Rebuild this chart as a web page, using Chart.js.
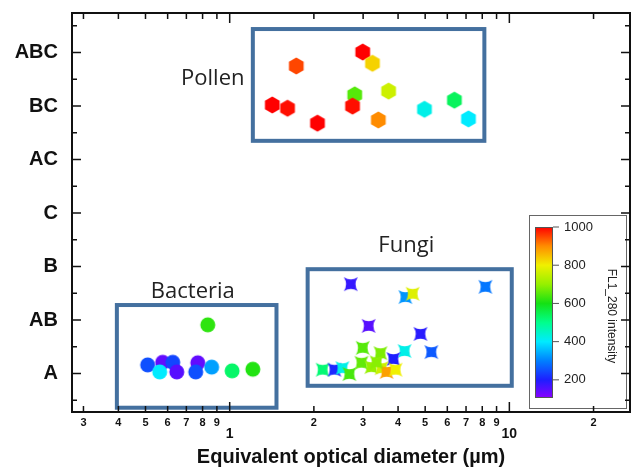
<!DOCTYPE html>
<html>
<head>
<meta charset="utf-8">
<script src="https://cdn.jsdelivr.net/npm/chart.js@4.4.1/dist/chart.umd.min.js"></script>
<style>
  html, body { margin: 0; padding: 0; background: #fff; }
  #wrap { position: relative; width: 635px; height: 470px; }
</style>
</head>
<body>
<div id="wrap"><canvas id="chart"></canvas></div>
<script>
// categories on the y axis, bottom to top
const yCategories = ['A', 'AB', 'B', 'C', 'AC', 'BC', 'ABC'];

// log x axis ticks
const xTickValues = [0.3, 0.4, 0.5, 0.6, 0.7, 0.8, 0.9, 1, 2, 3, 4, 5, 6, 7, 8, 9, 10, 20];
const xTickLabels = ['3', '4', '5', '6', '7', '8', '9', '1', '2', '3', '4', '5', '6', '7', '8', '9', '10', '2'];
const xMajorTicks = [1, 10];

// pollen (hexagons)
const pollenSize = [2.99, 3.24, 1.73, 1.42, 1.61, 2.06, 2.80, 2.75, 3.70, 3.40, 4.97, 6.36, 7.14];
const pollenClass = [6.01, 5.80, 5.75, 5.02, 4.96, 4.68, 5.21, 5.00, 5.28, 4.74, 4.94, 5.11, 4.76];
const pollenIntensity = [1000, 830, 950, 1000, 990, 1000, 650, 990, 760, 900, 420, 540, 400];

// bacteria (circles)
const bacteriaSize = [0.835, 0.509, 0.576, 0.562, 0.626, 0.647, 0.769, 0.756, 0.862, 1.02, 1.21];
const bacteriaClass = [0.91, 0.16, 0.21, 0.03, 0.21, 0.03, 0.20, 0.03, 0.12, 0.05, 0.08];
const bacteriaIntensity = [620, 250, 140, 400, 240, 150, 140, 250, 330, 530, 610];

// fungi (stars)
const fungiSize = [2.71, 8.21, 4.25, 4.51, 3.14, 4.81, 5.26, 4.22, 3.85, 2.99, 3.46, 2.15, 2.37, 2.53, 2.68, 2.96, 3.21, 3.49, 3.64, 3.92, 3.35];
const fungiClass = [1.67, 1.62, 1.43, 1.49, 0.89, 0.74, 0.40, 0.42, 0.27, 0.48, 0.38, 0.07, 0.07, 0.10, -0.01, 0.20, 0.12, 0.10, 0.03, 0.07, 0.21];
const fungiIntensity = [180, 290, 320, 780, 150, 190, 260, 420, 200, 650, 680, 520, 210, 420, 640, 660, 700, 760, 880, 800, 690];

// group boxes, in data units
const boxNames = ['Pollen', 'Bacteria', 'Fungi'];
const boxXMin = [1.21, 0.395, 1.90];
const boxXMax = [8.14, 1.47, 10.2];
const boxYMin = [4.35, -0.64, -0.23];
const boxYMax = [6.44, 1.28, 1.95];
const boxLabelX = [0.87, 0.738, 4.28];
const boxLabelY = [5.52, 1.52, 2.38];

// colour bar
const colorbarTicks = [200, 400, 600, 800, 1000];
const colorbarMin = 105;
const colorbarMax = 1000;
const cmapValues = [105, 200, 300, 400, 500, 600, 700, 800, 900, 1000];
const cmapColors = [
  [138, 0, 255], [30, 30, 255], [0, 128, 255], [0, 235, 255], [0, 255, 140],
  [20, 225, 20], [150, 240, 0], [240, 240, 0], [255, 140, 0], [255, 0, 0]
];

function intensityColor(v) {
  if (v <= cmapValues[0]) return 'rgb(' + cmapColors[0].join(',') + ')';
  for (let i = 1; i < cmapValues.length; i++) {
    if (v <= cmapValues[i]) {
      const t = (v - cmapValues[i - 1]) / (cmapValues[i] - cmapValues[i - 1]);
      const a = cmapColors[i - 1], b = cmapColors[i];
      const c = a.map((n, k) => Math.round(n + (b[k] - n) * t));
      return 'rgb(' + c.join(',') + ')';
    }
  }
  return 'rgb(' + cmapColors[cmapColors.length - 1].join(',') + ')';
}

function makeMarker(shape, color) {
  const size = 20;
  const cv = document.createElement('canvas');
  cv.width = size; cv.height = size;
  const c = cv.getContext('2d');
  c.translate(size / 2, size / 2);
  c.fillStyle = color;
  c.beginPath();
  if (shape === 'hex') {
    const r = 8.5;
    for (let i = 0; i < 6; i++) {
      const a = Math.PI / 2 + i * Math.PI / 3;
      c.lineTo(r * Math.cos(a), r * Math.sin(a));
    }
    c.closePath();
  } else if (shape === 'star') {
    const s = 7, k = 0.35;
    c.moveTo(-s, -s);
    c.quadraticCurveTo(0, -s * k, s, -s);
    c.quadraticCurveTo(s * k, 0, s, s);
    c.quadraticCurveTo(0, s * k, -s, s);
    c.quadraticCurveTo(-s * k, 0, -s, -s);
  } else {
    c.arc(0, 0, 7.5, 0, Math.PI * 2);
  }
  c.fill();
  return cv;
}

function points(xs, ys) {
  return xs.map((x, i) => ({ x: x, y: ys[i] }));
}

const FONT = '"Liberation Sans", Arial, sans-serif';

const decor = {
  id: 'decor',
  beforeDraw(chart) {
    const ctx = chart.ctx;
    ctx.save();
    ctx.fillStyle = '#fff';
    ctx.fillRect(0, 0, chart.width, chart.height);
    ctx.restore();
  },
  beforeDatasetsDraw(chart) {
    const ctx = chart.ctx, x = chart.scales.x, y = chart.scales.y;
    ctx.save();
    ctx.strokeStyle = '#44709f';
    ctx.lineWidth = 4;
    boxNames.forEach((name, i) => {
      const l = x.getPixelForValue(boxXMin[i]), r = x.getPixelForValue(boxXMax[i]);
      const t = y.getPixelForValue(boxYMax[i]), b = y.getPixelForValue(boxYMin[i]);
      ctx.strokeRect(l, t, r - l, b - t);
      ctx.fillStyle = '#222';
      ctx.font = '22px "Open Sans", ' + FONT;
      ctx.textAlign = 'center';
      ctx.textBaseline = 'middle';
      ctx.fillText(name, x.getPixelForValue(boxLabelX[i]), y.getPixelForValue(boxLabelY[i]));
    });
    ctx.restore();
  },
  afterDatasetsDraw(chart) {
    const ctx = chart.ctx, x = chart.scales.x, y = chart.scales.y, a = chart.chartArea;
    ctx.save();
    // colour bar legend
    const bx = 529, by = 215, bw = 97, bh = 193;
    ctx.fillStyle = '#fff';
    ctx.fillRect(bx, by, bw, bh);
    ctx.strokeStyle = '#666';
    ctx.lineWidth = 1;
    ctx.strokeRect(bx + 0.5, by + 0.5, bw, bh);
    const gl = 535, gr = 553, gt = 227, gb = 398;
    const grad = ctx.createLinearGradient(0, gb, 0, gt);
    cmapValues.forEach((v, i) => {
      grad.addColorStop((v - colorbarMin) / (colorbarMax - colorbarMin), 'rgb(' + cmapColors[i].join(',') + ')');
    });
    ctx.fillStyle = grad;
    ctx.fillRect(gl, gt, gr - gl, gb - gt);
    ctx.strokeStyle = '#555';
    ctx.strokeRect(gl + 0.5, gt + 0.5, gr - gl - 1, gb - gt - 1);
    ctx.fillStyle = '#222';
    ctx.font = '13px ' + FONT;
    ctx.textAlign = 'left';
    ctx.textBaseline = 'middle';
    colorbarTicks.forEach(v => {
      const py = gb - (v - colorbarMin) / (colorbarMax - colorbarMin) * (gb - gt);
      ctx.beginPath();
      ctx.moveTo(gr, py); ctx.lineTo(gr + 6, py);
      ctx.stroke();
      ctx.fillText(String(v), gr + 11, py);
    });
    ctx.save();
    ctx.translate(611, 316);
    ctx.rotate(Math.PI / 2);
    ctx.textAlign = 'center';
    ctx.font = '12px ' + FONT;
    ctx.fillText('FL1_280 intensity', 0, 0);
    ctx.restore();

    // frame and inward ticks
    ctx.strokeStyle = '#111';
    ctx.lineWidth = 2;
    ctx.strokeRect(a.left, a.top, a.right - a.left, a.bottom - a.top);
    ctx.lineWidth = 1.5;
    ctx.beginPath();
    xTickValues.forEach(v => {
      const px = x.getPixelForValue(v);
      const len = xMajorTicks.includes(v) ? 10 : 6;
      ctx.moveTo(px, a.bottom); ctx.lineTo(px, a.bottom - len);
      ctx.moveTo(px, a.top); ctx.lineTo(px, a.top + len);
    });
    for (let i = 0; i <= yCategories.length; i++) {
      const major = y.getPixelForValue(i);
      const minor = y.getPixelForValue(i - 0.5);
      if (i < yCategories.length) {
        ctx.moveTo(a.left, major); ctx.lineTo(a.left + 9, major);
        ctx.moveTo(a.right, major); ctx.lineTo(a.right - 9, major);
      }
      ctx.moveTo(a.left, minor); ctx.lineTo(a.left + 5, minor);
      ctx.moveTo(a.right, minor); ctx.lineTo(a.right - 5, minor);
    }
    ctx.stroke();
    ctx.restore();
  }
};

function noPad(scale) {
  scale.paddingTop = 0;
  scale.paddingBottom = 0;
  scale.paddingLeft = 0;
  scale.paddingRight = 0;
}

new Chart(document.getElementById('chart'), {
  type: 'scatter',
  plugins: [decor],
  data: {
    datasets: [
      {
        label: 'Pollen',
        data: points(pollenSize, pollenClass),
        pointStyle: pollenIntensity.map(v => makeMarker('hex', intensityColor(v)))
      },
      {
        label: 'Bacteria',
        data: points(bacteriaSize, bacteriaClass),
        pointStyle: bacteriaIntensity.map(v => makeMarker('circle', intensityColor(v)))
      },
      {
        label: 'Fungi',
        data: points(fungiSize, fungiClass),
        pointStyle: fungiIntensity.map(v => makeMarker('star', intensityColor(v)))
      }
    ]
  },
  options: {
    responsive: true,
    maintainAspectRatio: false,
    animation: false,
    events: [],
    layout: { padding: { top: 13, right: 4, left: 0, bottom: 0 } },
    plugins: { legend: { display: false }, tooltip: { enabled: false } },
    scales: {
      x: {
        type: 'logarithmic',
        min: 0.273,
        max: 27,
        grid: { display: false, drawTicks: false, tickLength: 0 },
        border: { display: false },
        afterFit: (scale) => { scale.height = 58; noPad(scale); },
        afterBuildTicks: (scale) => {
          scale.ticks = xTickValues.map(v => ({ value: v, major: xMajorTicks.includes(v) }));
        },
        ticks: {
          autoSkip: false,
          maxRotation: 0,
          padding: 4,
          color: '#111',
          font: (ctx) => {
            const major = ctx.tick && xMajorTicks.includes(ctx.tick.value);
            return { family: FONT, size: major ? 14 : 11, weight: 'bold', lineHeight: major ? 0.85 : 1.2 };
          },
          callback: (value) => {
            const i = xTickValues.indexOf(value);
            if (i < 0) return '';
            return xMajorTicks.includes(value) ? ['', xTickLabels[i]] : xTickLabels[i];
          }
        },
        title: {
          display: true,
          text: 'Equivalent optical diameter (µm)',
          color: '#111',
          font: { family: FONT, size: 20, weight: 'bold' },
          padding: { top: 0, bottom: 1 }
        }
      },
      y: {
        type: 'linear',
        min: -0.72,
        max: 6.74,
        grid: { display: false, drawTicks: false, tickLength: 0 },
        border: { display: false },
        afterFit: (scale) => { scale.width = 72; noPad(scale); },
        afterBuildTicks: (scale) => {
          scale.ticks = yCategories.map((c, i) => ({ value: i }));
        },
        ticks: {
          padding: 14,
          color: '#111',
          font: { family: FONT, size: 20, weight: 'bold' },
          callback: (value) => yCategories[value]
        }
      }
    }
  }
});
</script>
</body>
</html>
